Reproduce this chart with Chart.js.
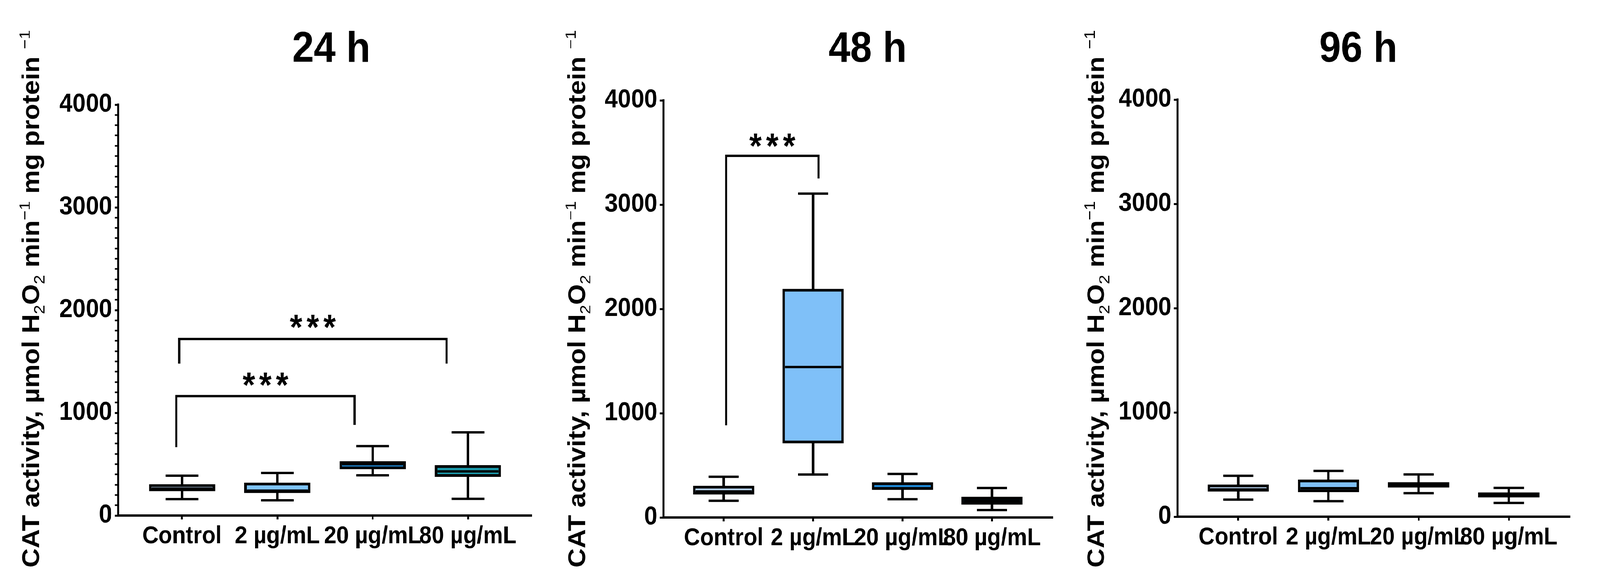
<!DOCTYPE html>
<html>
<head>
<meta charset="UTF-8">
<title>CAT activity</title>
<script src="https://cdn.jsdelivr.net/npm/chart.js@4.4.1/dist/chart.umd.min.js"></script>
<style>
  html, body { margin: 0; background: #fff; overflow: hidden; }
  #wrap { position: relative; width: 4507px; height: 1503px; background: #fff; transform-origin: 0 0; }
  #wrap canvas { position: absolute; top: 0; }
</style>
</head>
<body>
<div id="wrap">
  <canvas id="c24" width="1590" height="1503" style="left:0px"></canvas>
  <canvas id="c48" width="1460" height="1503" style="left:1590px"></canvas>
  <canvas id="c96" width="1457" height="1503" style="left:3050px"></canvas>
</div>

<script>
// categories and tick labels
const categories = ['Control', '2 µg/mL', '20 µg/mL', '80 µg/mL'];
const yTicks = [0, 1000, 2000, 3000, 4000];

// 24 h  (min, q1, median, q3, max)
const min24 = [160, 148, 392, 163];
const q1_24 = [238, 220, 452, 378];
const med24 = [262, 242, 500, 430];
const q3_24 = [304, 319, 527, 489];
const max24 = [388, 414, 676, 810];

// 48 h
const min48 = [160, 412, 175, 71];
const q1_48 = [221, 712, 265, 125];
const med48 = [250, 1443, 280, 160];
const q3_48 = [303, 2192, 336, 197];
const max48 = [390, 3106, 418, 283];

// 96 h
const min96 = [164, 149, 226, 132];
const q1_96 = [242, 236, 280, 186];
const med96 = [261, 273, 305, 210];
const q3_96 = [308, 355, 330, 232];
const max96 = [392, 439, 405, 276];

// significance brackets: from/to (x units), bar height, leg ends, star height
const sig24 = [
  { x1: 0.97, x2: 3.775, y: 1719, leg1: 1479, leg2: 1479, star: 1890 },
  { x1: 0.94, x2: 2.81, y: 1163, leg1: 665, leg2: 882, star: 1327 }
];
const sig48 = [
  { x1: 1.027, x2: 2.061, y: 3468, leg1: 884, leg2: 3251, star: 3618 }
];
const sig96 = [];

const FONT = '"Liberation Sans", Arial, sans-serif';

// fit the 4507x1503 drawing into whatever window we get
(function fit() {
  const sx = window.innerWidth / 4507, sy = window.innerHeight / 1503;
  document.getElementById('wrap').style.transform = 'scale(' + sx + ',' + sy + ')';
})();

function drawYTitle(ctx, x, y) {
  const big = 'bold 68px ' + FONT;
  const small = '43px ' + FONT;
  const parts = [['CAT activity, µmol H', 0], ['2', 1], ['O', 0], ['2', 1], [' min', 0], ['\u22121', -1], [' mg protein ', 0], ['\u22121', -1]];
  ctx.save();
  ctx.translate(x, y);
  ctx.rotate(-Math.PI / 2);
  let total = 0;
  parts.forEach(([t, k]) => { ctx.font = k ? small : big; total += ctx.measureText(t).width; });
  let cx = -total / 2;
  ctx.textAlign = 'left';
  ctx.textBaseline = 'alphabetic';
  ctx.fillStyle = '#000';
  parts.forEach(([t, k]) => {
    ctx.font = k ? small : big;
    ctx.fillText(t, cx, k === 1 ? 15 : (k === -1 ? -26 : 0));
    cx += ctx.measureText(t).width;
  });
  ctx.restore();
}

function boxChart(id, p) {
  const pts = arr => arr.map((v, i) => ({ x: i + 1, y: v }));
  const decor = {
    id: 'decor',
    afterDraw(chart) {
      const ctx = chart.ctx, xs = chart.scales.x, ys = chart.scales.y;
      ctx.save();
      // panel title
      ctx.fillStyle = '#000';
      ctx.font = 'bold 110px ' + FONT;
      ctx.textAlign = 'center';
      ctx.textBaseline = 'alphabetic';
      ctx.fillText(p.title, p.titleX, 158);
      // y axis title
      drawYTitle(ctx, p.yTitleX, 765);
      // brackets
      ctx.lineWidth = 6;
      ctx.strokeStyle = '#000';
      ctx.lineJoin = 'miter';
      p.sig.forEach(b => {
        const x1 = xs.getPixelForValue(b.x1), x2 = xs.getPixelForValue(b.x2);
        const y = ys.getPixelForValue(b.y);
        ctx.beginPath();
        ctx.moveTo(x1, ys.getPixelForValue(b.leg1));
        ctx.lineTo(x1, y);
        ctx.lineTo(x2, y);
        ctx.lineTo(x2, ys.getPixelForValue(b.leg2));
        ctx.stroke();
        ctx.font = 'bold 90px ' + FONT;
        ctx.letterSpacing = '12px';
        ctx.textAlign = 'center';
        ctx.fillText('***', (x1 + x2) / 2 + 6, ys.getPixelForValue(b.star) + 46);
        ctx.letterSpacing = '0px';
      });
      ctx.restore();
    }
  };

  return new Chart(document.getElementById(id), {
    type: 'bar',
    data: {
      datasets: [
        { type: 'line', data: pts(p.med), showLine: false, pointStyle: 'line',
          pointRadius: p.box / 2 - 7, pointBorderWidth: 6, pointBorderColor: '#000', order: 0 },
        { type: 'line', data: pts(p.min).concat(pts(p.max)), showLine: false, pointStyle: 'line',
          pointRadius: p.cap / 2, pointBorderWidth: 6, pointBorderColor: '#000', order: 0 },
        { type: 'bar', data: p.q1.map((v, i) => ({ x: i + 1, y: [v, p.q3[i]] })),
          backgroundColor: p.colors, borderColor: '#000', borderWidth: 7, borderSkipped: false,
          barThickness: p.box, grouped: false, order: 1 },
        { type: 'bar', data: p.min.map((v, i) => ({ x: i + 1, y: [v, p.max[i]] })),
          backgroundColor: '#000', borderWidth: 0, barThickness: 6, grouped: false, order: 2 }
      ]
    },
    options: {
      responsive: false,
      animation: false,
      events: [],
      layout: { padding: { left: 0, right: p.padR, top: p.padT, bottom: p.padB } },
      plugins: { legend: { display: false }, tooltip: { enabled: false }, title: { display: false } },
      scales: {
        x: {
          type: 'linear', min: p.xmin, max: p.xmax, offset: false,
          afterBuildTicks: axis => { axis.ticks = categories.map((c, i) => ({ value: i + 1 })); },
          afterFit: axis => { axis.height = 150; },
          border: { display: true, color: '#000', width: 6 },
          grid: { display: true, offset: false, drawOnChartArea: false, drawTicks: true,
                  tickLength: 10, tickWidth: 5, tickColor: '#000' },
          ticks: { autoSkip: false, maxRotation: 0, minRotation: 0, padding: 6, color: '#000',
                   font: { family: FONT, size: 63, weight: 'bold' },
                   callback: v => categories[v - 1] }
        },
        y: {
          type: 'linear', min: 0, max: 4000,
          afterFit: axis => { axis.width = p.yW; },
          border: { display: true, color: '#000', width: 6 },
          grid: { display: true, drawOnChartArea: false, drawTicks: true, tickLength: 10,
                  tickWidth: c => yTicks.includes(c.tick.value) ? 5 : 4, tickColor: '#000' },
          ticks: { autoSkip: false, stepSize: p.step, padding: 7, color: '#000',
                   font: { family: FONT, size: 67, weight: 'bold' },
                   callback: v => yTicks.includes(v) ? String(v) : '' }
        }
      }
    },
    plugins: [decor]
  });
}

boxChart('c24', {
  title: '24 h', titleX: 933, yTitleX: 110,
  min: min24, q1: q1_24, med: med24, q3: q3_24, max: max24,
  colors: ['#b4d0ec', '#7fc4fa', '#1f8ad8', '#1b97a8'],
  sig: sig24, box: 186, cap: 92, step: 100,
  yW: 333, padR: 25, padT: 268, padB: 33, xmin: 0.33, xmax: 4.67
});
boxChart('c48', {
  title: '48 h', titleX: 854, yTitleX: 58,
  min: min48, q1: q1_48, med: med48, q3: q3_48, max: max48,
  colors: ['#b4d0ec', '#7fc0f8', '#1f8ad8', '#0f4656'],
  sig: sig48, box: 172, cap: 85, step: 1000,
  yW: 279, padR: 37, padT: 257, padB: 28, xmin: 0.327, xmax: 4.677
});
boxChart('c96', {
  title: '96 h', titleX: 776, yTitleX: 60,
  min: min96, q1: q1_96, med: med96, q3: q3_96, max: max96,
  colors: ['#b4d0ec', '#7fc0f8', '#1f8ad8', '#0f4656'],
  sig: sig96, box: 172, cap: 85, step: 1000,
  yW: 267, padR: 46, padT: 255, padB: 30, xmin: 0.327, xmax: 4.677
});
</script>
</body>
</html>
